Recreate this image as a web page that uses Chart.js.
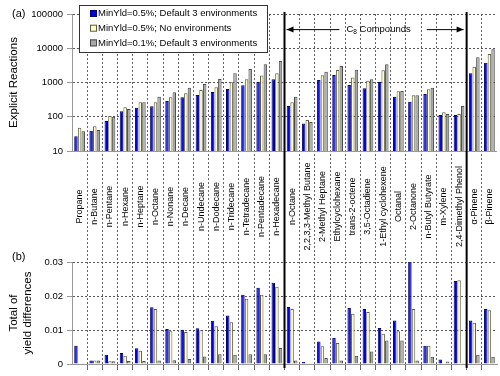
<!DOCTYPE html>
<html lang="en">
<head>
<meta charset="UTF-8">
<title>Explicit reactions and total yield differences</title>
<script src="https://cdn.jsdelivr.net/npm/chart.js"></script>
<style>
  body { margin: 0; background: #fff; }
  #wrap { width: 500px; height: 376px; }
</style>
</head>
<body>
<div id="wrap"><canvas id="grafico" width="500" height="376"></canvas></div>
<script>
  const compounds = ['Propane', 'n-Butane', 'n-Pentane', 'n-Hexane', 'n-Heptane', 'n-Octane', 'n-Nonane',
    'n-Decane', 'n-Undecane', 'n-Dodecane', 'n-Tridecane', 'n-Tetradecane', 'n-Pentadecane', 'n-Hexadecane',
    'n-Octane', '2,2,3,3-Methyl Butane', '2-Methyl Heptane', 'Ethylcyclohexane', 'trans-2-octene',
    '3,5-Octadiene', '1-Ethyl cyclohexene', 'Octanal', '2-Octanone', 'n-Butyl Butyrate', 'm-Xylene',
    '2,4-Dimethyl Phenol', 'α-Pinene', 'β-Pinene'];
  const seriesNames = ['MinYld=0.5%; Default 3 environments', 'MinYld=0.5%; No environments',
    'MinYld=0.1%; Default 3 environments'];

  // (a) number of explicit reactions
  const reacDefault = [27, 39, 75, 145, 184, 202, 288, 370, 431, 527, 646, 830, 1055, 1240,
    206, 64, 1180, 1660, 850, 675, 1030, 385, 275, 461, 113, 113, 1860, 3800];
  const reacNoEnv = [48, 53, 105, 189, 265, 265, 370, 484, 603, 725, 1010, 1240, 1590, 1860,
    265, 80, 1630, 2320, 1410, 1120, 2270, 555, 423, 630, 135, 120, 2900, 6800];
  const reacLowYld = [38, 41, 100, 168, 265, 385, 518, 708, 904, 1260, 1860, 2460, 3390, 4240,
    385, 70, 2070, 3030, 2350, 1240, 3390, 565, 423, 708, 120, 206, 5430, 9350];

  // (b) total of yield differences
  const difDefault = [0.0054, 0.001, 0.0027, 0.0032, 0.0046, 0.0167, 0.0103, 0.0101, 0.0105, 0.0127,
    0.0143, 0.0204, 0.0224, 0.0239, 0.0168, 0.0006, 0.0066, 0.0077, 0.0165, 0.0162, 0.0106, 0.0128,
    0.031, 0.0054, 0.0013, 0.0244, 0.0128, 0.0162];
  const difNoEnv = [0.0001, 0.001, 0.0008, 0.0024, 0.0039, 0.0162, 0.0096, 0.0094, 0.0099, 0.0111,
    0.0123, 0.0192, 0.0204, 0.0227, 0.0162, 0.0002, 0.0052, 0.0062, 0.0148, 0.0153, 0.0089, 0.0096,
    0.0162, 0.0054, 0, 0.0246, 0.0121, 0.0158];
  const difLowYld = [0.0002, 0.001, 0.0008, 0.0009, 0.0009, 0.001, 0.0011, 0.0015, 0.0022, 0.0029,
    0.0027, 0.0029, 0.0029, 0.0047, 0.001, 0.0002, 0.0018, 0.001, 0.0024, 0.0037, 0.0069, 0.0069,
    0.001, 0.0021, 0.0007, 0.0001, 0.0027, 0.0021];

  const logTicks = [10, 100, 1000, 10000, 100000];
  const difTicks = [0, 0.01, 0.02, 0.03];
  const c8First = 14, c8Last = 25;

  const fontFam = '"Liberation Sans", Arial, sans-serif';
  Chart.defaults.font.family = fontFam;
  Chart.defaults.color = '#000';

  const fills = ['#0000e8', '#ffffcc', '#a8a8a8'];
  const edges = ['#000070', '#5c5c40', '#4a4a4a'];

  function barSet(i, data, axis) {
    return {
      label: seriesNames[i], data: data, yAxisID: axis, stack: 's' + i,
      backgroundColor: fills[i], borderColor: edges[i], borderWidth: 1,
      categoryPercentage: 0.72, barPercentage: 0.95
    };
  }

  // separators, rotated names, legend box and labels
  const panelExtras = {
    id: 'panelExtras',
    afterDraw(chart) {
      const { ctx, chartArea, scales } = chart;
      const x = scales.x, yTop = scales.yTop, yMid = scales.yMid, yBot = scales.yBot;
      const edge = i => (x.getPixelForValue(i - 1) + x.getPixelForValue(i)) / 2;
      const leftLine = edge(c8First), rightLine = edge(c8Last + 1);
      ctx.save();

      ctx.strokeStyle = '#000';
      ctx.lineWidth = 2;
      [leftLine, rightLine].forEach(px => {
        ctx.beginPath();
        ctx.moveTo(px, chartArea.top - 2);
        ctx.lineTo(px, chartArea.bottom + 4);
        ctx.stroke();
      });

      // compound names between the panels
      ctx.fillStyle = '#000';
      ctx.font = '9px ' + fontFam;
      ctx.textAlign = 'center';
      ctx.textBaseline = 'middle';
      const midY = (yMid.top + yMid.bottom) / 2;
      compounds.forEach((name, i) => {
        ctx.save();
        ctx.translate(x.getPixelForValue(i), midY);
        ctx.rotate(-Math.PI / 2);
        ctx.fillText(name, 0, 0);
        ctx.restore();
      });

      // panel letters
      ctx.font = '11px ' + fontFam;
      ctx.textAlign = 'left';
      ctx.fillText('(a)', 12, yTop.top);
      ctx.fillText('(b)', 12, yBot.top - 5);

      // legend
      const lx = chartArea.left + 7, ly = chartArea.top - 9, lw = 188, lh = 47;
      ctx.fillStyle = '#fff';
      ctx.fillRect(lx, ly, lw, lh);
      ctx.strokeStyle = '#333';
      ctx.lineWidth = 1;
      ctx.strokeRect(lx + 0.5, ly + 0.5, lw, lh);
      ctx.font = '9.5px ' + fontFam;
      seriesNames.forEach((name, i) => {
        const ry = ly + 8.5 + i * 14.7;
        ctx.fillStyle = fills[i];
        ctx.fillRect(lx + 11, ry - 3.5, 7, 7);
        ctx.strokeStyle = edges[i];
        ctx.strokeRect(lx + 11.5, ry - 3, 6, 6);
        ctx.fillStyle = '#000';
        ctx.fillText(name, lx + 19, ry);
      });

      // C8 compounds arrow
      const ay = yTop.getPixelForValue(35000);
      ctx.font = '9.5px ' + fontFam;
      const wC = ctx.measureText('C').width;
      const wRest = ctx.measureText(' Compounds').width;
      ctx.font = '6.5px ' + fontFam;
      const w8 = ctx.measureText('8').width;
      const tw = wC + w8 + wRest;
      const tx = (leftLine + rightLine) / 2 + 3 - tw / 2;
      ctx.fillStyle = '#000';
      ctx.font = '9.5px ' + fontFam;
      ctx.fillText('C', tx, ay);
      ctx.fillText(' Compounds', tx + wC + w8, ay);
      ctx.font = '6.5px ' + fontFam;
      ctx.fillText('8', tx + wC, ay + 3);

      ctx.strokeStyle = '#000';
      ctx.lineWidth = 1;
      ctx.beginPath();
      ctx.moveTo(leftLine + 2, ay); ctx.lineTo(tx - 7, ay);
      ctx.moveTo(tx + tw + 16, ay); ctx.lineTo(rightLine - 3, ay);
      ctx.stroke();
      ctx.beginPath();
      ctx.moveTo(leftLine + 2, ay); ctx.lineTo(leftLine + 9, ay - 3); ctx.lineTo(leftLine + 9, ay + 3);
      ctx.closePath();
      ctx.moveTo(rightLine - 3, ay); ctx.lineTo(rightLine - 10, ay - 3); ctx.lineTo(rightLine - 10, ay + 3);
      ctx.closePath();
      ctx.fill();

      ctx.restore();
    }
  };

  const sideTitle = { display: true, color: '#000', font: { size: 11.5 }, padding: { top: 7, bottom: 0 } };

  new Chart(document.getElementById('grafico').getContext('2d'), {
    type: 'bar',
    data: {
      labels: compounds,
      datasets: [
        barSet(0, reacDefault, 'yTop'), barSet(1, reacNoEnv, 'yTop'), barSet(2, reacLowYld, 'yTop'),
        barSet(0, difDefault, 'yBot'), barSet(1, difNoEnv, 'yBot'), barSet(2, difLowYld, 'yBot')
      ]
    },
    options: {
      responsive: false,
      animation: false,
      layout: { padding: { top: 14, bottom: 6, left: 0, right: 3 } },
      plugins: { legend: { display: false }, tooltip: { enabled: false } },
      scales: {
        x: {
          type: 'category',
          offset: true,
          ticks: { display: false },
          grid: {
            offset: true, tickLength: 6,
            color: c => (c.index === undefined || c.index === 0) ? 'rgba(0,0,0,0)' : '#666'
          },
          border: { display: true, color: '#999', dash: [2, 2] }
        },
        yTop: {
          type: 'logarithmic', position: 'left', stack: 'panels', stackWeight: 137, weight: 3,
          min: 10, max: 100000, stacked: false,
          afterBuildTicks: s => { s.ticks = logTicks.map(v => ({ value: v })); },
          afterFit: s => { s.width = 72; },
          ticks: { callback: v => String(v), font: { size: 9.5 }, padding: 4 },
          grid: {
            tickLength: 5, tickColor: '#999', tickBorderDash: [],
            color: c => (c.tick && c.tick.value === 10) ? '#999' : '#555'
          },
          border: { color: '#999', dash: c => (c.tick && c.tick.value === 10) ? [] : [2, 2] },
          title: Object.assign({ text: 'Explicit Reactions' }, sideTitle)
        },
        yMid: {
          type: 'linear', position: 'left', stack: 'panels', stackWeight: 111, weight: 2,
          min: 0, max: 1,
          afterFit: s => { s.width = 72; },
          ticks: { display: false },
          grid: { display: false },
          border: { display: false }
        },
        yBot: {
          type: 'linear', position: 'left', stack: 'panels', stackWeight: 102, weight: 1,
          min: 0, max: 0.03, stacked: false,
          afterBuildTicks: s => { s.ticks = difTicks.map(v => ({ value: v })); },
          afterFit: s => { s.width = 72; },
          ticks: { callback: v => String(v), font: { size: 9.5 }, padding: 4 },
          grid: {
            tickLength: 5, tickColor: '#999', tickBorderDash: [],
            color: c => (c.tick && c.tick.value === 0) ? '#999' : '#555'
          },
          border: { color: '#999', dash: c => (c.tick && c.tick.value === 0) ? [] : [2, 2] },
          title: Object.assign({ text: ['Total of', 'yield differences'] }, sideTitle)
        }
      }
    },
    plugins: [panelExtras]
  });
</script>
</body>
</html>
